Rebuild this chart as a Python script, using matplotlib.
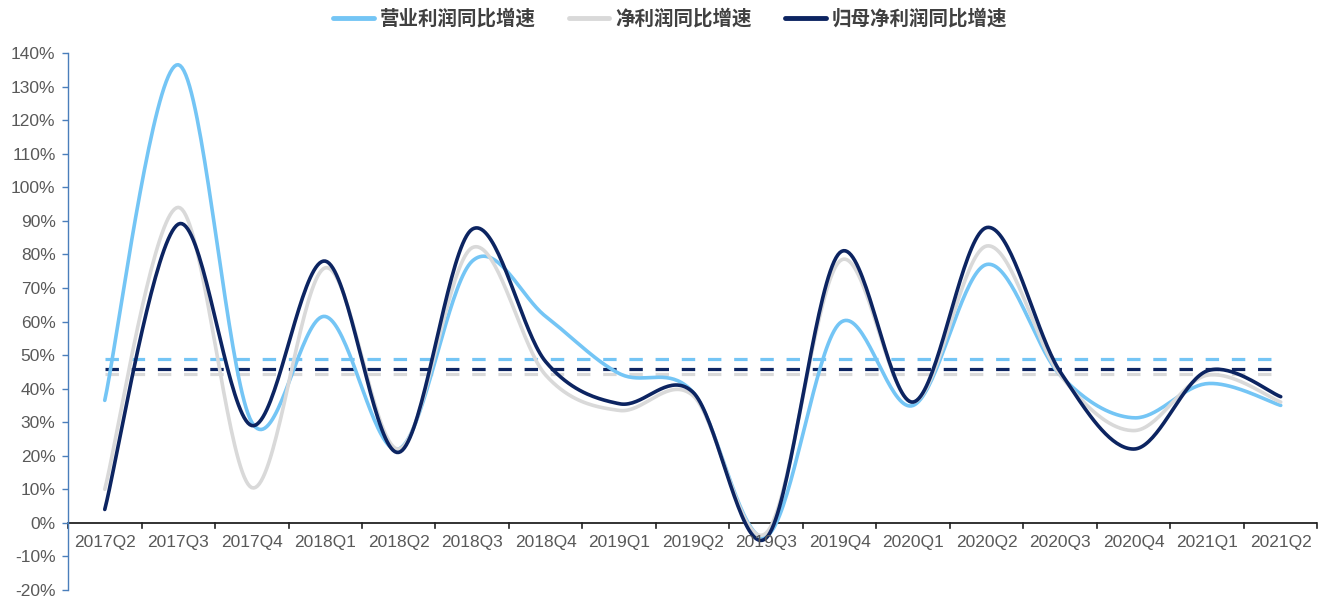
import numpy as np
import matplotlib
matplotlib.use("Agg")
import matplotlib.pyplot as plt
from matplotlib.ticker import FuncFormatter, MultipleLocator

plt.rcParams['font.family'] = ['Liberation Sans', 'Noto Sans CJK SC', 'DejaVu Sans']

categories = ["2017Q2", "2017Q3", "2017Q4", "2018Q1", "2018Q2", "2018Q3", "2018Q4",
              "2019Q1", "2019Q2", "2019Q3", "2019Q4", "2020Q1", "2020Q2", "2020Q3",
              "2020Q4", "2021Q1", "2021Q2"]
op_profit = [36.5, 136.5, 30.0, 61.5, 22.0, 78.0, 61.5, 44.5, 39.0, -4.0, 59.5, 35.0, 77.0, 44.0, 31.3, 41.5, 35.0]
net_profit = [10.0, 94.0, 10.5, 76.0, 22.0, 82.0, 44.0, 33.5, 38.0, -3.0, 78.0, 36.0, 82.5, 44.0, 27.5, 44.0, 36.0]
parent_profit = [4.0, 89.0, 29.0, 78.0, 21.0, 87.5, 48.0, 35.5, 39.0, -4.5, 80.5, 36.0, 88.0, 45.0, 22.0, 45.3, 37.6]
series_names = ["营业利润同比增速", "净利润同比增速", "归母净利润同比增速"]
colors = ["#74C5F5", "#D9D9D9", "#0C2461"]


def smooth(xs, ys, n=40):
    xs = np.asarray(xs, float)
    ys = np.asarray(ys, float)
    P = np.column_stack([xs, ys])
    P = np.vstack([P[0], P, P[-1]])
    out = []
    for i in range(1, len(P) - 2):
        p0, p1, p2, p3 = P[i - 1], P[i], P[i + 1], P[i + 2]
        c1 = p1 + (p2 - p0) / 6.0
        c2 = p2 - (p3 - p1) / 6.0
        t = np.linspace(0, 1, n)[:, None]
        seg = ((1 - t) ** 3) * p1 + 3 * ((1 - t) ** 2) * t * c1 + 3 * (1 - t) * t ** 2 * c2 + t ** 3 * p2
        out.append(seg if i == 1 else seg[1:])
    out = np.vstack(out)
    return out[:, 0], out[:, 1]


fig = plt.figure(figsize=(13.18, 5.98), dpi=100)
# y=140% at 53px, y=-20% at 590px
ax = fig.add_axes([0.0516, 1 - 590 / 598, 0.948, (590 - 53) / 598])

x = np.arange(len(categories))
all_series = [op_profit, net_profit, parent_profit]

# mean dashed lines
for vals, c in zip(all_series, colors):
    m = np.mean(vals)
    ax.plot([x[0], x[-1]], [m, m], color=c, lw=2.3, dashes=(4.2, 4.0), zorder=2)

handles = []
for vals, c, name in zip(all_series, colors, series_names):
    sx, sy = smooth(x, vals)
    h, = ax.plot(sx, sy, color=c, lw=2.6, solid_capstyle='round', label=name, zorder=3)
    handles.append(h)

ax.set_xlim(-0.5, len(categories) - 0.5)
ax.set_ylim(-20, 140)
ax.yaxis.set_major_locator(MultipleLocator(10))
ax.yaxis.set_major_formatter(FuncFormatter(lambda v, p: f"{v:.0f}%"))

for s in ['top', 'right', 'bottom']:
    ax.spines[s].set_visible(False)
ax.spines['left'].set_color('#4A7EBB')
ax.spines['left'].set_linewidth(1.0)
ax.axhline(0, color='#222222', lw=1.3, zorder=1)

ax.tick_params(axis='y', direction='out', length=4, width=1, color='#4A7EBB',
               labelsize=12.5, labelcolor='#595959', pad=5)
ax.set_xticks([])
for xi, cat in zip(x, categories):
    ax.annotate(cat, xy=(xi, 0), xytext=(0, -9), textcoords='offset points',
                ha='center', va='top', fontsize=12.5, color='#595959')
# boundary tick marks on the 0 line
for b in np.arange(-0.5, len(categories) + 0.5, 1.0):
    ax.plot([b, b], [0, -1.6], color='#222222', lw=1.2, clip_on=False, zorder=1)

leg = fig.legend(handles=handles, loc='center', bbox_to_anchor=(670 / 1318, 1 - 19 / 598), ncol=3,
                 frameon=False, handlelength=2.1, columnspacing=1.7, handletextpad=0.3,
                 prop={'family': ['Noto Sans CJK SC'], 'size': 14, 'weight': 'bold'})
for t in leg.get_texts():
    t.set_color('#404040')
for l in leg.get_lines():
    l.set_linewidth(3.5)

fig.savefig("out.png", dpi=100)
